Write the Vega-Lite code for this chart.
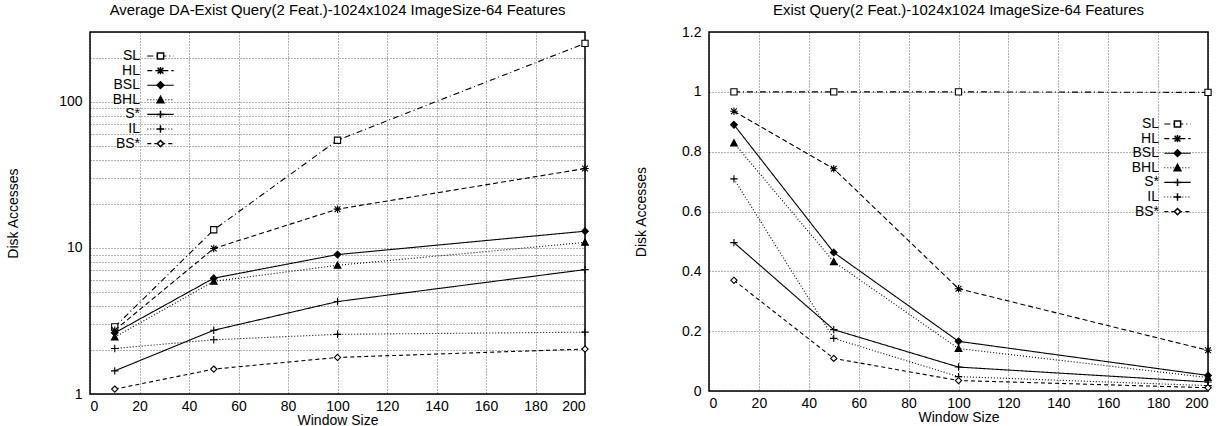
{
  "$schema": "https://vega.github.io/schema/vega-lite/v6.json",
  "background": "white",
  "padding": {"left": 5, "top": 2, "right": 4, "bottom": 0},
  "config": {
    "font": "Liberation Sans",
    "view": {"stroke": "black", "strokeWidth": 1.5},
    "scale": {"continuousPadding": 0},
    "axis": {
      "labelFont": "Liberation Sans", "labelFontSize": 14, "labelColor": "black",
      "titleFont": "Liberation Sans", "titleFontSize": 14, "titleFontWeight": "normal", "titleColor": "black",
      "domain": false, "ticks": false, "labelPadding": 8,
      "grid": true, "gridColor": "black", "gridDash": [1, 2], "gridOpacity": 0.75, "gridWidth": 0.8,
      "labelOverlap": false
    },
    "axisX": {"labelPadding": 5, "titlePadding": 0},
    "title": {"font": "Liberation Sans", "fontSize": 14.9, "fontWeight": "normal", "color": "black", "anchor": "middle", "offset": 7},
    "legend": {"labelFont": "Liberation Sans", "labelFontSize": 14, "labelColor": "black", "padding": 0, "rowPadding": 0.6, "title": null}
  },
  "datasets": {
    "left": [
      {"series": "SL", "window": 10, "accesses": 2.88},
      {"series": "SL", "window": 50, "accesses": 13.3},
      {"series": "SL", "window": 100, "accesses": 54.5},
      {"series": "SL", "window": 200, "accesses": 251},
      {"series": "HL", "window": 10, "accesses": 2.73},
      {"series": "HL", "window": 50, "accesses": 9.9},
      {"series": "HL", "window": 100, "accesses": 18.4},
      {"series": "HL", "window": 200, "accesses": 34.9},
      {"series": "BSL", "window": 10, "accesses": 2.62},
      {"series": "BSL", "window": 50, "accesses": 6.2},
      {"series": "BSL", "window": 100, "accesses": 9.0},
      {"series": "BSL", "window": 200, "accesses": 13.0},
      {"series": "BHL", "window": 10, "accesses": 2.45},
      {"series": "BHL", "window": 50, "accesses": 5.9},
      {"series": "BHL", "window": 100, "accesses": 7.6},
      {"series": "BHL", "window": 200, "accesses": 10.9},
      {"series": "S*", "window": 10, "accesses": 1.44},
      {"series": "S*", "window": 50, "accesses": 2.73},
      {"series": "S*", "window": 100, "accesses": 4.29},
      {"series": "S*", "window": 200, "accesses": 7.1},
      {"series": "IL", "window": 10, "accesses": 2.05},
      {"series": "IL", "window": 50, "accesses": 2.35},
      {"series": "IL", "window": 100, "accesses": 2.56},
      {"series": "IL", "window": 200, "accesses": 2.65},
      {"series": "BS*", "window": 10, "accesses": 1.08},
      {"series": "BS*", "window": 50, "accesses": 1.48},
      {"series": "BS*", "window": 100, "accesses": 1.78},
      {"series": "BS*", "window": 200, "accesses": 2.03}
    ],
    "right": [
      {"series": "SL", "window": 10, "accesses": 1.0},
      {"series": "SL", "window": 50, "accesses": 1.0},
      {"series": "SL", "window": 100, "accesses": 1.0},
      {"series": "SL", "window": 200, "accesses": 0.998},
      {"series": "HL", "window": 10, "accesses": 0.935},
      {"series": "HL", "window": 50, "accesses": 0.743},
      {"series": "HL", "window": 100, "accesses": 0.342},
      {"series": "HL", "window": 200, "accesses": 0.136},
      {"series": "BSL", "window": 10, "accesses": 0.89},
      {"series": "BSL", "window": 50, "accesses": 0.463},
      {"series": "BSL", "window": 100, "accesses": 0.166},
      {"series": "BSL", "window": 200, "accesses": 0.052},
      {"series": "BHL", "window": 10, "accesses": 0.829},
      {"series": "BHL", "window": 50, "accesses": 0.432},
      {"series": "BHL", "window": 100, "accesses": 0.142},
      {"series": "BHL", "window": 200, "accesses": 0.045},
      {"series": "S*", "window": 10, "accesses": 0.496},
      {"series": "S*", "window": 50, "accesses": 0.205},
      {"series": "S*", "window": 100, "accesses": 0.08},
      {"series": "S*", "window": 200, "accesses": 0.03},
      {"series": "IL", "window": 10, "accesses": 0.709},
      {"series": "IL", "window": 50, "accesses": 0.176},
      {"series": "IL", "window": 100, "accesses": 0.048},
      {"series": "IL", "window": 200, "accesses": 0.018},
      {"series": "BS*", "window": 10, "accesses": 0.37},
      {"series": "BS*", "window": 50, "accesses": 0.109},
      {"series": "BS*", "window": 100, "accesses": 0.035},
      {"series": "BS*", "window": 200, "accesses": 0.011}
    ]
  },
  "spacing": 41,
  "resolve": {
    "scale": {"x": "independent", "y": "independent", "strokeDash": "independent", "shape": "independent", "fill": "independent"},
    "legend": {"strokeDash": "independent", "shape": "independent", "fill": "independent"}
  },
  "hconcat": [
    {
      "width": 495,
      "height": 362,
      "title": "Average DA-Exist Query(2 Feat.)-1024x1024 ImageSize-64 Features",
      "data": {"name": "left"},
      "encoding": {
        "x": {"field": "window", "type": "quantitative", "scale": {"domain": [0, 200], "nice": false, "padding": 0},
              "axis": {"title": "Window Size", "values": [0, 20, 40, 60, 80, 100, 120, 140, 160, 180, 200], "format": "d"}},
        "y": {"field": "accesses", "type": "quantitative", "scale": {"type": "log", "domain": [1, 300], "nice": false, "padding": 0},
              "axis": {"title": "Disk Accesses", "titlePadding": 38, "values": [1, 2, 3, 4, 5, 6, 7, 8, 9, 10, 20, 30, 40, 50, 60, 70, 80, 90, 100, 200, 300],
                       "labelExpr": "datum.value == 1 || datum.value == 10 || datum.value == 100 ? '' + datum.value : ''"}}
      },
      "layer": [
        {
          "mark": {"type": "line", "color": "black", "strokeWidth": 1.1},
          "encoding": {
            "strokeDash": {"field": "series", "type": "nominal",
              "scale": {"domain": ["SL", "HL", "BSL", "BHL", "S*", "IL", "BS*"], "range": [[6, 3, 1, 3], [5, 3], [1, 0], [1, 2], [1, 0], [1, 2], [4, 3]]},
              "legend": {"orient": "none", "legendX": 63.5, "legendY": 17, "symbolType": "M-2.2,0H2.2", "symbolSize": 144,
                         "symbolStrokeColor": "black", "symbolStrokeWidth": 1.1, "labelAlign": "right", "labelOffset": -27.5, "labelLimit": 0}}
          }
        },
        {
          "mark": {"type": "point", "filled": true, "size": 144, "stroke": "black", "strokeWidth": 1.1, "opacity": 1},
          "encoding": {
            "shape": {"field": "series", "type": "nominal",
              "scale": {"domain": ["HL", "SL", "BSL", "BHL", "S*", "IL", "BS*"],
                        "range": ["M-0.62,0H0.62M0,-0.62V0.62M-0.48,-0.48L0.48,0.48M-0.48,0.48L0.48,-0.48",
                                  "M-0.52,-0.52H0.52V0.52H-0.52Z",
                                  "M0,-0.56L0.56,0L0,0.56L-0.56,0Z",
                                  "M0,-0.56L0.56,0.48H-0.56Z",
                                  "M-0.62,0H0.62M0,-0.62V0.62",
                                  "M-0.62,0H0.62M0,-0.62V0.62",
                                  "M0,-0.52L0.52,0L0,0.52L-0.52,0Z"]},
              "legend": {"orient": "none", "legendX": 63.5, "legendY": 17, "symbolSize": 144, "values": ["SL", "HL", "BSL", "BHL", "S*", "IL", "BS*"],
                         "labelOpacity": 0, "labelAlign": "right", "labelOffset": -27.5, "labelLimit": 0,
                         "encode": {"symbols": {"update": {"stroke": {"value": "black"}, "strokeWidth": {"value": 1.1}, "opacity": {"value": 1}}}}}},
            "fill": {"field": "series", "type": "nominal",
              "scale": {"domain": ["HL", "SL", "BSL", "BHL", "S*", "IL", "BS*"], "range": ["black", "white", "black", "black", "white", "white", "white"]},
              "legend": {"orient": "none", "legendX": 63.5, "legendY": 17, "symbolSize": 144, "values": ["SL", "HL", "BSL", "BHL", "S*", "IL", "BS*"],
                         "labelOpacity": 0, "labelAlign": "right", "labelOffset": -27.5, "labelLimit": 0}}
          }
        }
      ]
    },
    {
      "width": 499,
      "height": 359,
      "title": "Exist Query(2 Feat.)-1024x1024 ImageSize-64 Features",
      "data": {"name": "right"},
      "encoding": {
        "x": {"field": "window", "type": "quantitative", "scale": {"domain": [0, 200], "nice": false, "padding": 0},
              "axis": {"title": "Window Size", "values": [0, 20, 40, 60, 80, 100, 120, 140, 160, 180, 200], "format": "d"}},
        "y": {"field": "accesses", "type": "quantitative", "scale": {"domain": [0, 1.2], "nice": false, "padding": 0},
              "axis": {"title": "Disk Accesses", "titlePadding": 33, "values": [0, 0.2, 0.4, 0.6, 0.8, 1, 1.2], "format": "~g"}}
      },
      "layer": [
        {
          "mark": {"type": "line", "color": "black", "strokeWidth": 1.1},
          "encoding": {
            "strokeDash": {"field": "series", "type": "nominal",
              "scale": {"domain": ["SL", "HL", "BSL", "BHL", "S*", "IL", "BS*"], "range": [[6, 3, 1, 3], [5, 3], [1, 0], [1, 2], [1, 0], [1, 2], [4, 3]]},
              "legend": {"orient": "none", "legendX": 461.5, "legendY": 85, "symbolType": "M-2.2,0H2.2", "symbolSize": 144,
                         "symbolStrokeColor": "black", "symbolStrokeWidth": 1.1, "labelAlign": "right", "labelOffset": -25.5, "labelLimit": 0}}
          }
        },
        {
          "mark": {"type": "point", "filled": true, "size": 144, "stroke": "black", "strokeWidth": 1.1, "opacity": 1},
          "encoding": {
            "shape": {"field": "series", "type": "nominal",
              "scale": {"domain": ["HL", "SL", "BSL", "BHL", "S*", "IL", "BS*"],
                        "range": ["M-0.62,0H0.62M0,-0.62V0.62M-0.48,-0.48L0.48,0.48M-0.48,0.48L0.48,-0.48",
                                  "M-0.52,-0.52H0.52V0.52H-0.52Z",
                                  "M0,-0.56L0.56,0L0,0.56L-0.56,0Z",
                                  "M0,-0.56L0.56,0.48H-0.56Z",
                                  "M-0.62,0H0.62M0,-0.62V0.62",
                                  "M-0.62,0H0.62M0,-0.62V0.62",
                                  "M0,-0.52L0.52,0L0,0.52L-0.52,0Z"]},
              "legend": {"orient": "none", "legendX": 461.5, "legendY": 85, "symbolSize": 144, "values": ["SL", "HL", "BSL", "BHL", "S*", "IL", "BS*"],
                         "labelOpacity": 0, "labelAlign": "right", "labelOffset": -25.5, "labelLimit": 0,
                         "encode": {"symbols": {"update": {"stroke": {"value": "black"}, "strokeWidth": {"value": 1.1}, "opacity": {"value": 1}}}}}},
            "fill": {"field": "series", "type": "nominal",
              "scale": {"domain": ["HL", "SL", "BSL", "BHL", "S*", "IL", "BS*"], "range": ["black", "white", "black", "black", "white", "white", "white"]},
              "legend": {"orient": "none", "legendX": 461.5, "legendY": 85, "symbolSize": 144, "values": ["SL", "HL", "BSL", "BHL", "S*", "IL", "BS*"],
                         "labelOpacity": 0, "labelAlign": "right", "labelOffset": -25.5, "labelLimit": 0}}
          }
        }
      ]
    }
  ]
}
